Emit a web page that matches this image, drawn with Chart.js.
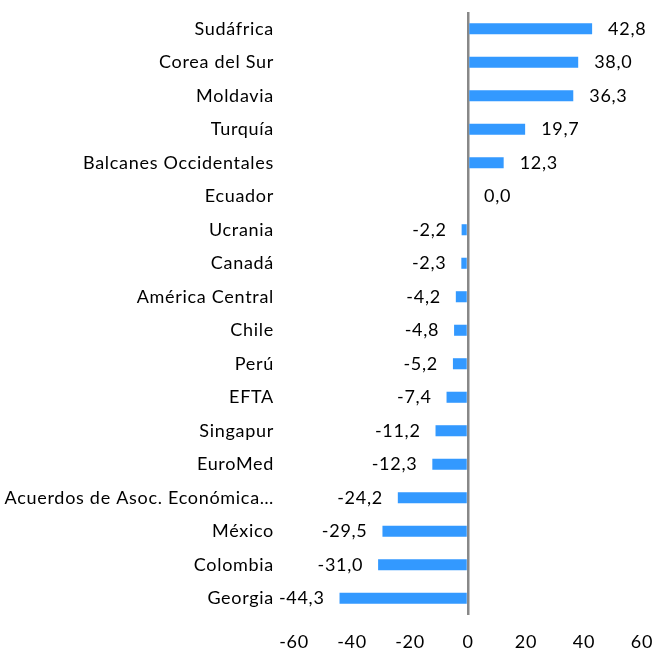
<!DOCTYPE html>
<html>
<head>
<meta charset="utf-8">
<script src="https://cdn.jsdelivr.net/npm/chart.js@4"></script>
<style>
  html, body { margin: 0; padding: 0; background: #fff; }
  #wrap { width: 655px; height: 652px; }
</style>
</head>
<body>
<div id="wrap"><canvas id="tlcChart"></canvas></div>
<script>
const categories = ['Sudáfrica', 'Corea del Sur', 'Moldavia', 'Turquía', 'Balcanes Occidentales', 'Ecuador',
  'Ucrania', 'Canadá', 'América Central', 'Chile', 'Perú', 'EFTA', 'Singapur', 'EuroMed',
  'Acuerdos de Asoc. Económica…', 'México', 'Colombia', 'Georgia'];
const values = [42.8, 38.0, 36.3, 19.7, 12.3, 0.0, -2.2, -2.3, -4.2, -4.8, -5.2, -7.4, -11.2, -12.3, -24.2, -29.5, -31.0, -44.3];
const xTicks = [-60, -40, -20, 0, 20, 40, 60];

const FONT = 'Lato, "Open Sans", sans-serif';
const SPACING = '0.7px';

// the reference text is spaced out a bit, keep it on the context
const spacing = {
  id: 'spacing',
  beforeLayout(chart) { chart.ctx.letterSpacing = SPACING; },
  beforeDraw(chart) { chart.ctx.letterSpacing = SPACING; }
};

// value labels beside each bar, decimal comma
const valueLabels = {
  id: 'valueLabels',
  afterDatasetsDraw(chart) {
    const ctx = chart.ctx;
    const meta = chart.getDatasetMeta(0);
    ctx.save();
    ctx.font = '18px ' + FONT;
    ctx.fillStyle = '#000';
    ctx.textBaseline = 'middle';
    meta.data.forEach((bar, i) => {
      const v = values[i];
      const txt = v.toFixed(1).replace('.', ',');
      if (v >= 0) {
        ctx.textAlign = 'left';
        ctx.fillText(txt, bar.x + 16, bar.y);
      } else {
        ctx.textAlign = 'right';
        ctx.fillText(txt, bar.x - 15, bar.y);
      }
    });
    ctx.restore();
  }
};

new Chart(document.getElementById('tlcChart'), {
  type: 'bar',
  data: {
    labels: categories,
    datasets: [{
      data: values,
      backgroundColor: '#3399FF',
      barPercentage: 0.33,
      categoryPercentage: 1.0
    }]
  },
  options: {
    indexAxis: 'y',
    responsive: true,
    maintainAspectRatio: false,
    animation: false,
    layout: { padding: { top: 12, right: 13, bottom: 0, left: 0 } },
    plugins: {
      legend: { display: false },
      tooltip: { enabled: false }
    },
    scales: {
      x: {
        min: -60,
        max: 60,
        afterBuildTicks(axis) { axis.ticks = xTicks.map(v => ({ value: v })); },
        afterFit(axis) {
          axis.paddingLeft = 0;
          axis.paddingRight = 0;
          axis.height = 37;
        },
        border: { display: false },
        grid: {
          drawTicks: false,
          color: c => c.tick && c.tick.value === 0 ? '#888888' : 'rgba(0,0,0,0)',
          lineWidth: 2.5
        },
        ticks: {
          padding: 16,
          maxRotation: 0,
          color: '#000',
          font: { family: FONT, size: 18 },
          callback: v => String(v)
        }
      },
      y: {
        afterFit(axis) {
          axis.paddingTop = 0;
          axis.paddingBottom = 0;
          axis.width = 294;
        },
        border: { display: false },
        grid: { display: false, drawTicks: false },
        ticks: {
          padding: 20,
          autoSkip: false,
          color: '#000',
          font: { family: FONT, size: 18 }
        }
      }
    }
  },
  plugins: [spacing, valueLabels]
});
</script>
</body>
</html>
